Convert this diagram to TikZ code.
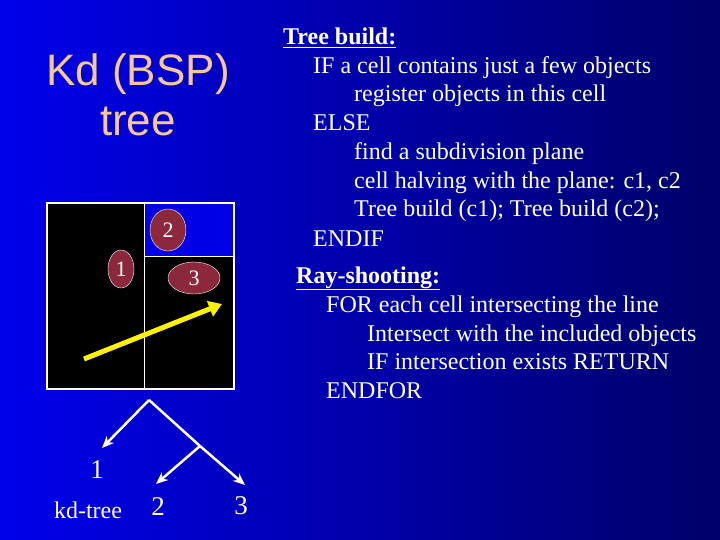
\documentclass[tikz,border=0pt]{standalone}
\usepackage{fontspec}
\setmainfont{Liberation Serif}
\newfontfamily\titlefont{Liberation Sans}
\usetikzlibrary{positioning}
\definecolor{bgleft}{RGB}{0,0,235}
\definecolor{bgright}{RGB}{0,0,105}
\definecolor{peach}{RGB}{245,200,150}
\definecolor{maroon}{RGB}{140,40,60}
\definecolor{cellblue}{RGB}{0,0,230}
\tikzset{
  codeline/.style={anchor=base west, text=white, font=\fontsize{24}{24}\selectfont, inner sep=0pt},
  objell/.style={ellipse, draw=white, fill=maroon, text=white, font=\fontsize{22}{22}\selectfont, inner sep=0pt},
  treelabel/.style={text=white, font=\fontsize{27}{27}\selectfont, inner sep=0pt},
  treearrow/.style={draw=white, line width=2.5pt, -{Stealth[length=12pt,width=10pt]}}
}
\usetikzlibrary{arrows.meta,shapes.geometric}
\begin{document}
\begin{tikzpicture}[x=1pt, y=-1pt]
\shade[left color=bgleft, right color=bgright] (0,0) rectangle (720,540);
\useasboundingbox (0,0) rectangle (720,540);

% title
\node[text=peach, font=\titlefont\fontsize{44}{50}\selectfont, align=center] (title) at (138,95) {Kd (BSP)\\tree};

% cells
\draw[white, line width=1.5pt, fill=black] (47,203) rectangle (234,389);
\draw[white, line width=1.5pt, fill=cellblue] (144.5,203) rectangle (234,256.5);
\draw[white, line width=1.5pt] (144.5,203) -- (144.5,389);

% objects
\node[objell, minimum width=36pt, minimum height=42pt] (obj2) at (168,230) {2};
\node[objell, minimum width=26pt, minimum height=38pt] (obj1) at (121,269) {1};
\node[objell, minimum width=52pt, minimum height=32pt] (obj3) at (194,278) {3};

% ray
\coordinate (rayA) at (84,359);
\coordinate (rayB) at (222,304);
\draw[yellow, line width=5pt, -{Triangle[length=13pt,width=16pt]}] (rayA) -- (rayB);

% kd-tree
\coordinate (root) at (149,400);
\coordinate (inner) at (200,446);
\coordinate (leaf1) at (102,448);
\coordinate (leaf2) at (156,484);
\coordinate (leaf3) at (245,485);
\draw[treearrow] (root) -- (leaf1);
\draw[white, line width=2.5pt] (root) -- (inner);
\draw[treearrow] (inner) -- (leaf2);
\draw[treearrow] (inner) -- (leaf3);
\node[treelabel] (lab1) at (97,470) {1};
\node[treelabel] (kdtree) at (88,510) {\fontsize{24}{24}\selectfont kd-tree};
\node[treelabel] (lab2) at (158,507) {2};
\node[treelabel] (lab3) at (241,506) {3};

% pseudo code
\node[codeline] (tb) at (283,45) {\textbf{\underline{Tree build:}}};
\node[codeline] at (313,74) {IF a cell contains just a few objects};
\node[codeline] at (354,102) {register objects in this cell};
\node[codeline] at (313,131) {ELSE};
\node[codeline] at (354,160) {find a subdivision plane};
\node[codeline] at (354,189) {cell halving with the plane: c1, c2};
\node[codeline] at (354,217) {Tree build (c1); Tree build (c2);};
\node[codeline] at (313,246) {ENDIF};
\node[codeline] (rs) at (296,283) {\textbf{\underline{Ray-shooting:}}};
\node[codeline] at (326,312) {FOR each cell intersecting the line};
\node[codeline] at (367,341) {Intersect with the included objects};
\node[codeline] at (367,369) {IF intersection exists RETURN};
\node[codeline] at (326,398) {ENDFOR};
\end{tikzpicture}
\end{document}
